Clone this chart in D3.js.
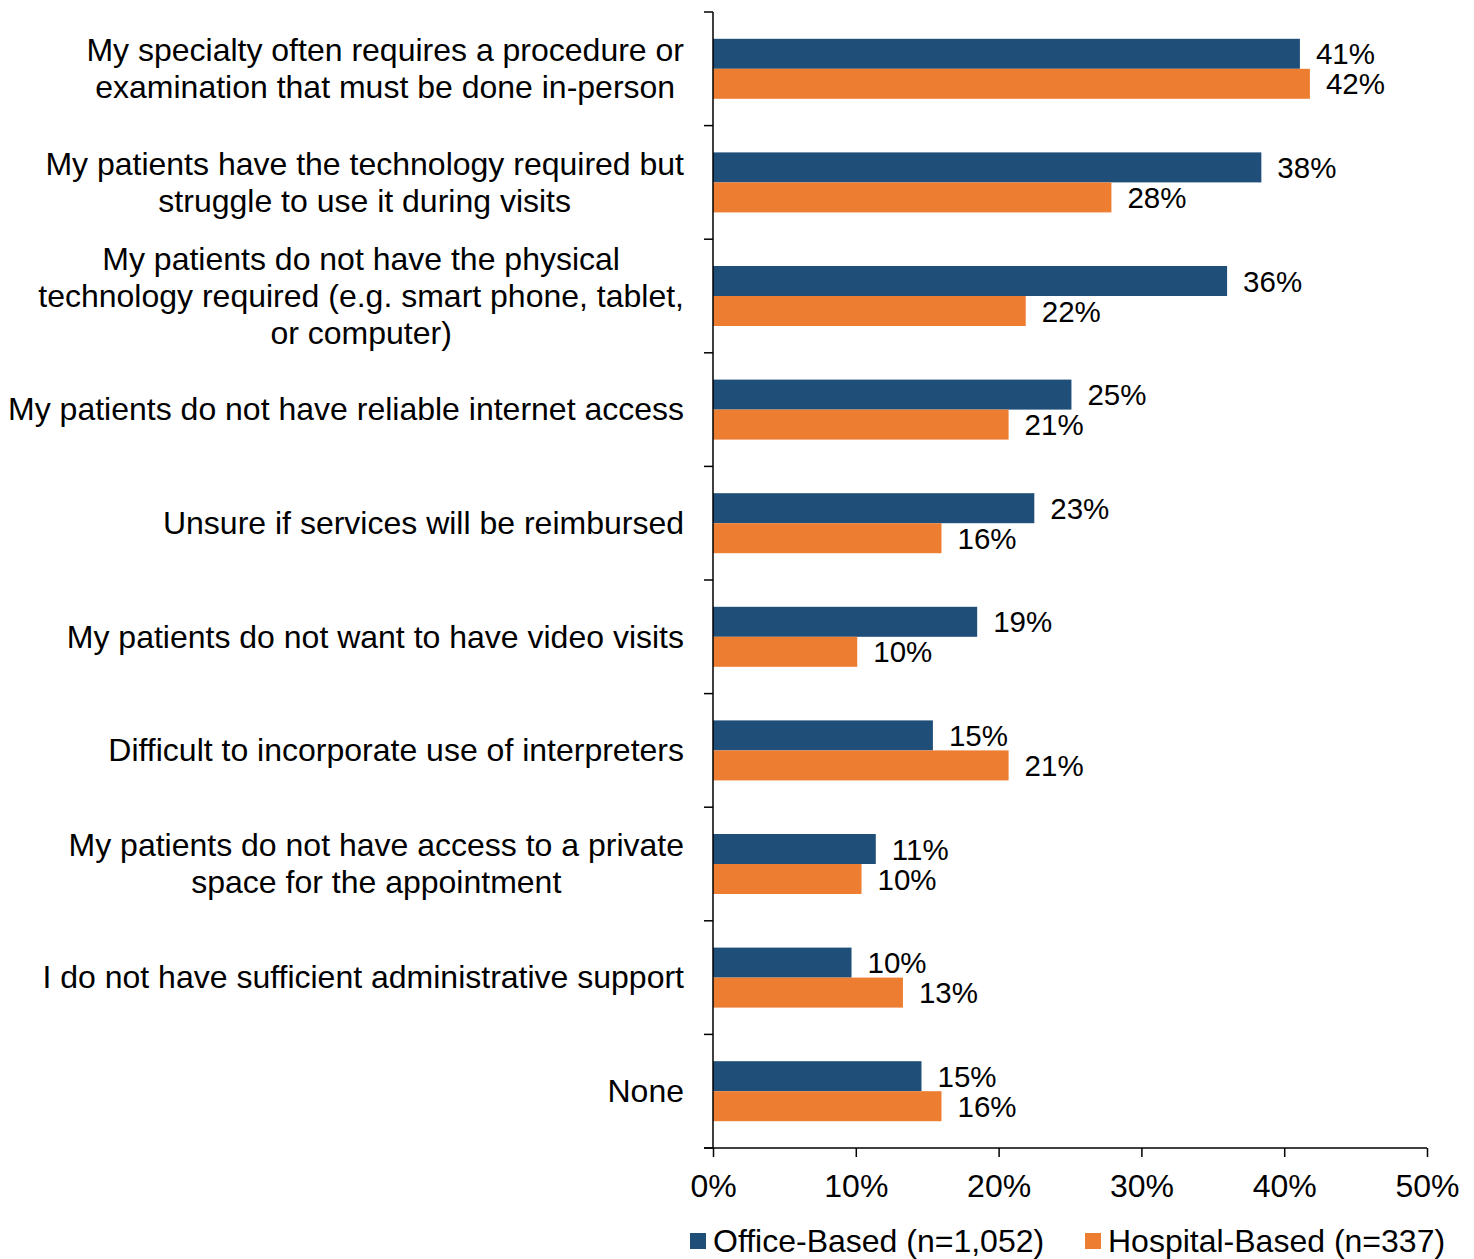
<!DOCTYPE html>
<html><head><meta charset="utf-8">
<script src="https://cdn.jsdelivr.net/npm/d3@7"></script>
<style>html,body{margin:0;padding:0;background:#fff;} text{font-family:"Liberation Sans",Arial,sans-serif;fill:#000;}</style>
</head><body>
<svg id="c" width="1474" height="1259"></svg>
<script>
const categories = [
  ["My specialty often requires a procedure or", "examination that must be done in-person"],
  ["My patients have the technology required but", "struggle to use it during visits"],
  ["My patients do not have the physical", "technology required (e.g. smart phone, tablet,", "or computer)"],
  ["My patients do not have reliable internet access"],
  ["Unsure if services will be reimbursed"],
  ["My patients do not want to have video visits"],
  ["Difficult to incorporate use of interpreters"],
  ["My patients do not have access to a private", "space for the appointment"],
  ["I do not have sufficient administrative support"],
  ["None"]
];
const seriesNames = ["Office-Based (n=1,052)", "Hospital-Based (n=337)"];
const officeValues = [41.1, 38.4, 36.0, 25.1, 22.5, 18.5, 15.4, 11.4, 9.7, 14.6];
const hospitalValues = [41.8, 27.9, 21.9, 20.7, 16.0, 10.1, 20.7, 10.4, 13.3, 16.0];
const officeLabels = ["41%","38%","36%","25%","23%","19%","15%","11%","10%","15%"];
const hospitalLabels = ["42%","28%","22%","21%","16%","10%","21%","10%","13%","16%"];
const xTicks = [0, 10, 20, 30, 40, 50];
const colors = ["#1F4E79", "#ED7D31"];

const svg = d3.select("#c");
const FS = 32;
const FS_DATA = 29.5;
const x = d3.scaleLinear().domain([0, 50]).range([713, 1427]);
const keys = categories.map((c, i) => i);
const y = d3.scaleBand().domain(keys).range([12, 1148]);
const bw = y.bandwidth();
const barH = 30;
const y1 = d3.scaleBand().domain([0, 1]).range([0, barH * 2]);

const series = [officeValues, hospitalValues];
const labels = [officeLabels, hospitalLabels];

// bars
series.forEach((vals, s) => {
  svg.append("g").selectAll("rect").data(vals).join("rect")
    .attr("x", x(0))
    .attr("y", (d, i) => y(i) + (bw - barH * 2) / 2 + y1(s))
    .attr("width", d => x(d) - x(0))
    .attr("height", y1.bandwidth())
    .attr("fill", colors[s]);
  svg.append("g").selectAll("text").data(vals).join("text")
    .attr("x", d => x(d) + 16)
    .attr("y", (d, i) => y(i) + (bw - barH * 2) / 2 + y1(s) + y1.bandwidth() / 2)
    .attr("dy", "0.36em")
    .attr("font-size", FS_DATA)
    .text((d, i) => labels[s][i]);
});

// y axis
const yAxis = svg.append("g").attr("transform", `translate(${x(0)},0)`);
yAxis.append("line").attr("x1", 0).attr("x2", 0).attr("y1", 12).attr("y2", 1148).attr("stroke", "#000").attr("stroke-width", 1.5);
const bounds = keys.map(k => y(k)).concat([1148]);
yAxis.selectAll("line.t").data(bounds).join("line").attr("class", "t")
  .attr("x1", -9).attr("x2", 0).attr("y1", d => d).attr("y2", d => d)
  .attr("stroke", "#000").attr("stroke-width", 1.5);

// category labels
const lineH = 37;
const labG = svg.append("g");
categories.forEach((lines, i) => {
  const g = labG.append("g");
  const cy = y(i) + bw / 2;
  const texts = lines.map((ln, j) => g.append("text")
    .attr("y", cy + (j - (lines.length - 1) / 2) * lineH)
    .attr("dy", "0.34em")
    .attr("font-size", FS)
    .attr("text-anchor", "middle")
    .text(ln));
  const w = d3.max(texts, t => t.node().getComputedTextLength());
  texts.forEach(t => t.attr("x", 684 - w / 2));
});

// x axis
const xAxisG = svg.append("g").attr("transform", "translate(0,1148)")
  .call(d3.axisBottom(x).tickValues(xTicks).tickSize(9).tickFormat(d => d + "%"));
xAxisG.select(".domain").attr("stroke", "#000").attr("stroke-width", 1.5).attr("d", `M${x(0) - 9},0H${x(50)}`);
xAxisG.selectAll(".tick line").attr("stroke", "#000").attr("stroke-width", 1.5);
xAxisG.selectAll(".tick text").attr("font-size", FS).attr("font-family", "Liberation Sans, Arial, sans-serif").attr("fill", "#000").attr("y", 0).attr("dy", "0").attr("transform", "translate(0,49)");

// legend
const legX = [690, 1085];
seriesNames.forEach((n, s) => {
  const g = svg.append("g").attr("transform", `translate(${legX[s]},1240)`);
  g.append("rect").attr("x", 0).attr("y", -7).attr("width", 16).attr("height", 16).attr("fill", colors[s]);
  g.append("text").attr("x", 23).attr("y", 0).attr("dy", "0.36em").attr("font-size", FS).text(n);
});
</script>
</body></html>
